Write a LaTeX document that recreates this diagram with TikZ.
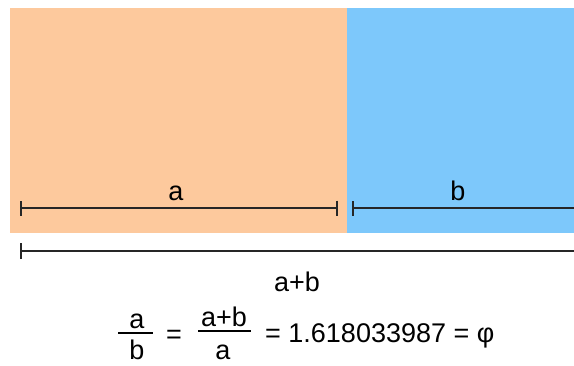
\documentclass[tikz,border=0pt]{standalone}
\usepackage{fontspec}
\setmainfont{Liberation Sans}
\usetikzlibrary{arrows.meta}

\definecolor{goldpeach}{HTML}{FDC99D}
\definecolor{goldsky}{HTML}{7DC8FB}

\begin{document}
\begin{tikzpicture}[x=1pt, y=-1pt, every node/.style={font=\fontsize{27}{32}\selectfont, inner sep=0pt},
	dim/.style={line width=2pt, draw=black!85}]
	\useasboundingbox (0,0) rectangle (574,365);
	\fill[goldpeach] (10,8) rectangle (347,233);
	\fill[goldsky] (347,8) rectangle (574,233);
	% segments a, b and a+b
	\coordinate (aL) at (20,208); \coordinate (aR) at (338,208);
	\coordinate (bL) at (352,208); \coordinate (bR) at (576,208);
	\coordinate (sL) at (20,251); \coordinate (sR) at (576,251);
	\draw[dim, {Bar[width=15pt]}-{Bar[width=15pt]}] (aL) -- (aR);
	\draw[dim, {Bar[width=15pt]}-] (bL) -- (bR);
	\draw[dim, {Bar[width=16pt]}-] (sL) -- (sR);
	\node[anchor=base] (la) at (176,200) {a};
	\node[anchor=base] (lb) at (458,200) {b};
	\node[anchor=base] (lsum) at (297,291) {a+b};
	% the ratio
	\node[anchor=base] (num1) at (137,328) {a};
	\node[anchor=base] (den1) at (137,359) {b};
	\draw[line width=1.6pt] (118,333) -- (153,333);
	\node (eq1) at (174,337) {=};
	\node[anchor=base] (num2) at (224,326) {a+b};
	\node[anchor=base] (den2) at (223,359) {a};
	\draw[line width=1.6pt] (198,331) -- (251,331);
	\node[anchor=base west] (val) at (265,342) {= 1.618033987 = φ};
\end{tikzpicture}
\end{document}
